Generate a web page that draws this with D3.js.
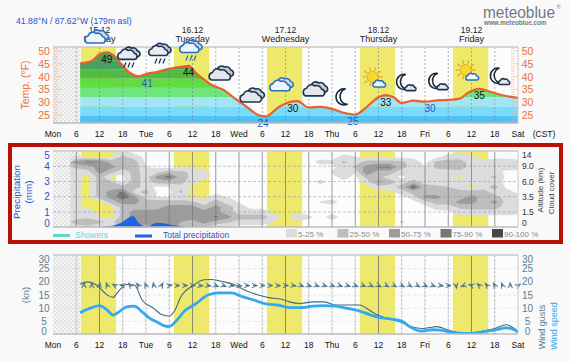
<!DOCTYPE html>
<html>
<head>
<meta charset="utf-8">
<script src="https://cdn.jsdelivr.net/npm/d3@7"></script>
<style>
html, body { margin: 0; padding: 0; background: #f9f9f9; }
svg { display: block; font-family: "Liberation Sans", Arial, sans-serif; }
</style>
</head>
<body>
<svg id="chart" width="570" height="362"></svg>
<script>
// forecast data
var dayLabels = [['15.12', 'Monday', 12], ['16.12', 'Tuesday', 36], ['17.12', 'Wednesday', 60], ['18.12', 'Thursday', 84], ['19.12', 'Friday', 108]];
var axisHours = [0, 6, 12, 18, 24, 30, 36, 42, 48, 54, 60, 66, 72, 78, 84, 90, 96, 102, 108, 114, 120];
var axisNames = ['Mon', '6', '12', '18', 'Tue', '6', '12', '18', 'Wed', '6', '12', '18', 'Thu', '6', '12', '18', 'Fri', '6', '12', '18', 'Sat'];
var daylight = [[7.2, 16.3], [31.2, 40.3], [55.2, 64.3], [79.2, 88.3], [103.2, 112.3]];

var tempHours = [7, 10, 12, 14, 16, 18, 20, 22, 24, 27, 30, 33, 35, 37, 39, 41, 44, 47, 50, 53, 55, 58, 60, 63, 66, 69, 72, 75, 78, 81, 84, 86, 88, 90, 93, 96, 99, 102, 105, 107, 110, 113, 116, 120];
var tempValues = [45.2, 46.1, 48.7, 49.5, 47.8, 44.2, 41.3, 40.1, 41, 41.9, 43, 43.8, 44.2, 41.3, 38.8, 36.7, 34.8, 31.4, 28.2, 25, 24.5, 27.8, 29.5, 30.4, 28, 28.2, 27.4, 25.9, 25.2, 28.2, 31.9, 32.8, 31.8, 29.7, 30.6, 30.2, 30.7, 30.9, 31.4, 33.6, 35.2, 34, 32.7, 31.7];
var tempSteps = [21, 24.8, 28.4, 32, 35.6, 39.2, 42.8, 46.4, 52];
var tempColors = ['#4fc3f5', '#7adcf8', '#a2e6f6', '#6fe67c', '#62dc42', '#52bb42', '#4a9f62', '#4a9f62'];
var tempLabelHours = [13.9, 24.3, 35, 54.2, 61.9, 77.4, 85.9, 97.3, 110];
var tempLabelValues = [49, 41, 44, 24, 30, 25, 33, 30, 35];
var tempLabelLine = [49.5, 40.1, 44.2, 24.5, 30.4, 25.2, 32.8, 30.2, 35.2];
var tempLabelLow = [false, true, false, true, false, true, false, true, false];
var tempTicks = [50, 45, 40, 35, 30, 25];

var iconHours = [11.3, 19.6, 27.6, 35.6, 43.6, 51.6, 59, 67.9, 75, 83, 91.3, 99.6, 107, 115.5];
var iconLevels = [55, 47.7, 49.2, 50.4, 41, 32.4, 36.3, 34.8, 32, 38.7, 37.1, 37.5, 41.4, 39.5];
var iconKinds = ['dayCloud', 'rain', 'rain', 'dayRain', 'cloud', 'cloud', 'dayCloud', 'cloud', 'moon', 'sun', 'moonCloud', 'moonCloud', 'sun', 'moonCloud'];

var precipHours = [12.5, 13.4, 15.5, 17.6, 19, 20, 21, 22, 23.4, 24.7, 26, 27.2, 29, 30.6, 32.7, 34.5];
var precipValues = [0, 0.05, 0.1, 0.3, 0.55, 0.72, 0.7, 0.3, 0.08, 0.05, 0.25, 0.3, 0.25, 0.15, 0.1, 0];
var precipTicks = [5, 4, 3, 2, 1, 0];
var altitudeTicks = ['14', '9.0', '6.0', '3.5', '1.5', '0'];

// cloud cover in percent: one list per 3 hours from hour 6, 16 levels from top to bottom
var cloudCols = [
  [0, 8, 60, 30, 10, 10, 10, 10, 10, 10, 10, 10, 15, 15, 35, 15],
  [0, 4, 80, 40, 15, 0, 0, 0, 0, 0, 0, 0, 20, 20, 40, 20],
  [0, 4, 75, 60, 60, 35, 35, 35, 35, 35, 0, 0, 0, 5, 30, 10],
  [0, 4, 40, 60, 35, 0, 30, 35, 60, 60, 35, 0, 0, 0, 20, 0],
  [15, 30, 35, 35, 10, 0, 0, 35, 80, 95, 60, 35, 30, 35, 40, 35],
  [0, 15, 35, 35, 35, 35, 35, 35, 15, 60, 60, 40, 60, 60, 60, 40],
  [0, 0, 0, 6, 15, 15, 15, 15, 35, 15, 35, 35, 60, 60, 60, 40],
  [0, 0, 0, 0, 20, 60, 35, 0, 0, 5, 35, 40, 60, 60, 60, 60],
  [0, 0, 0, 0, 35, 90, 35, 5, 0, 5, 35, 60, 60, 60, 60, 60],
  [0, 0, 0, 0, 30, 35, 30, 20, 30, 10, 35, 60, 60, 60, 50, 40],
  [0, 0, 0, 0, 20, 20, 15, 0, 0, 0, 30, 60, 60, 60, 40, 30],
  [0, 0, 0, 0, 10, 10, 0, 0, 0, 0, 15, 30, 60, 60, 60, 30],
  [0, 0, 0, 0, 0, 0, 0, 0, 0, 15, 35, 60, 60, 80, 40, 10],
  [0, 0, 0, 0, 0, 0, 0, 0, 0, 5, 15, 35, 35, 60, 30, 5],
  [0, 0, 0, 0, 0, 0, 0, 0, 0, 0, 4, 15, 15, 35, 15, 0],
  [0, 0, 0, 0, 0, 0, 0, 0, 0, 0, 0, 0, 15, 35, 15, 0],
  [0, 0, 0, 0, 0, 0, 0, 0, 0, 0, 0, 0, 15, 35, 15, 0],
  [0, 0, 0, 0, 0, 0, 0, 0, 0, 0, 0, 0, 0, 15, 4, 0],
  [0, 0, 0, 0, 0, 0, 0, 0, 0, 0, 0, 0, 0, 0, 0, 0],
  [0, 0, 0, 0, 0, 0, 0, 0, 0, 0, 0, 0, 0, 20, 0, 0],
  [0, 0, 0, 0, 0, 0, 0, 0, 0, 0, 0, 0, 0, 8, 0, 0],
  [0, 0, 10, 0, 0, 0, 9, 0, 0, 0, 6, 0, 0, 0, 0, 0],
  [0, 0, 8, 0, 6, 0, 0, 0, 0, 0, 10, 0, 0, 12, 0, 0],
  [0, 10, 30, 15, 15, 12, 0, 0, 0, 0, 0, 0, 0, 0, 0, 0],
  [0, 6, 15, 30, 6, 0, 0, 0, 0, 0, 0, 0, 0, 0, 0, 0],
  [0, 0, 35, 60, 75, 35, 10, 0, 0, 0, 0, 0, 0, 0, 0, 0],
  [0, 0, 35, 80, 35, 30, 60, 15, 0, 0, 0, 0, 0, 0, 0, 0],
  [0, 0, 35, 80, 35, 15, 35, 15, 0, 0, 0, 0, 0, 0, 0, 0],
  [0, 0, 30, 30, 15, 0, 15, 35, 15, 0, 0, 0, 0, 0, 7, 0],
  [0, 0, 15, 20, 20, 15, 35, 95, 35, 15, 0, 0, 0, 0, 0, 0],
  [0, 0, 0, 5, 15, 15, 15, 35, 35, 60, 15, 0, 0, 0, 0, 0],
  [0, 0, 30, 30, 15, 15, 15, 30, 35, 60, 35, 15, 0, 0, 0, 0],
  [0, 15, 35, 35, 15, 15, 15, 25, 35, 35, 35, 15, 0, 0, 0, 0],
  [0, 15, 35, 40, 15, 0, 15, 10, 35, 35, 60, 30, 15, 0, 0, 0],
  [0, 10, 15, 15, 15, 15, 15, 0, 35, 60, 60, 35, 15, 0, 0, 0],
  [0, 0, 10, 15, 15, 15, 15, 15, 35, 40, 35, 35, 15, 0, 0, 0],
  [0, 0, 15, 15, 15, 30, 15, 35, 15, 35, 60, 35, 15, 0, 0, 0],
  [0, 0, 15, 15, 0, 0, 0, 0, 15, 15, 15, 15, 15, 0, 0, 0],
  [0, 0, 10, 15, 0, 0, 0, 0, 0, 15, 15, 15, 10, 0, 0, 0]
];
var cloudLevels = [5, 25, 50, 75, 90];
var cloudColors = ['#dcdcdc', '#bdbdbd', '#9c9c9c', '#767676', '#474747'];
var cloudNames = ['5-25 %', '25-50 %', '50-75 %', '75-90 %', '90-100 %'];

var speedHours = [7, 10, 12, 14, 15.5, 17, 19, 21, 23, 25, 27, 29, 30, 32, 34, 37, 40, 43, 46, 49, 52, 55, 58, 61, 64, 67, 70, 73, 76, 79, 82, 84, 87, 90, 92, 95, 98, 100, 103, 106, 109, 112, 114, 117, 119, 120];
var speedValues = [8.3, 10.2, 11, 9.3, 7.4, 8.6, 10.5, 10.8, 8.6, 6.1, 4.6, 3.2, 3, 5.5, 9, 11.8, 15, 15.8, 15.8, 14.3, 13, 11.6, 11.2, 10.2, 10.2, 10.8, 11, 10.8, 9.9, 9, 7.4, 6.5, 5.9, 5.1, 3, 1.3, 1.8, 1.7, 0.8, 0.4, 0.5, 1.3, 1.7, 2.5, 1.8, 0.9];
var gustHours = [7, 9, 11, 14, 15.5, 17, 19, 21, 23, 26, 28, 30, 31.5, 33, 36, 39, 41, 44, 47, 50, 53, 56, 59, 61, 64, 67, 70, 73, 76, 79, 81, 83, 85, 88, 90, 92, 95, 97, 99, 102, 105, 108, 111, 114, 117, 119, 120];
var gustValues = [19.1, 20, 19, 15, 14.1, 16.6, 19, 18.8, 13.1, 9.9, 7.6, 7, 9.3, 14.3, 18.5, 20.8, 20.9, 20, 18.8, 16.5, 15, 13.9, 13.4, 12.4, 11.8, 12.4, 12.4, 11.2, 11.2, 11.2, 9.9, 8, 6.7, 5.5, 4.6, 3.2, 2.3, 2.6, 3, 1.7, 0.6, 0.6, 1.3, 2.3, 3.7, 2.3, 1.3];
// wind direction every 2 hours from hour 8, degrees clockwise from up
var windDirs = [0, 0, 10, -20, -60, -80, -40, -40, -20, -10, 30, 80,
  90, 90, 90, 95, 100, 110, 110, 100, 95, 90, 90, 90, 90, 90, 90, 100, 110, 110, 110, 110, 110, 110, 110, 110, 110, 115, 115, 120, 120, 120, 120, 120, 115, 110, 100, 90,
  170, -110, -70, -50, -40, -30, -20, 0, 60];
var windTicks = [30, 25, 20, 15, 10, 5, 0];

var svg = d3.select('#chart');
var defs = svg.append('defs');

var hatch = defs.append('pattern').attr('id', 'hatch').attr('width', 4).attr('height', 4).attr('patternUnits', 'userSpaceOnUse');
hatch.append('rect').attr('width', 4).attr('height', 4).attr('fill', '#f6f6f6');
hatch.append('rect').attr('width', 2).attr('height', 2).attr('fill', '#e2e2e2');
hatch.append('rect').attr('x', 2).attr('y', 2).attr('width', 2).attr('height', 2).attr('fill', '#e2e2e2');

var x = d3.scaleLinear().domain([0, 120]).range([53, 518]);
var yTemp = d3.scaleLinear().domain([50, 25]).range([51, 115]);
var yPrecip = d3.scaleLinear().domain([5, 0]).range([151, 227.3]);
var yWind = d3.scaleLinear().domain([30, 0]).range([255.5, 334.5]);

var panels = [{top: 47, bottom: 123}, {top: 151, bottom: 227}, {top: 255, bottom: 334}];

function clipFor(id, p) {
  defs.append('clipPath').attr('id', id).append('rect')
    .attr('x', 53).attr('y', p.top).attr('width', 465).attr('height', p.bottom - p.top);
}
clipFor('clipTemp', panels[0]);
clipFor('clipPrecip', panels[1]);
clipFor('clipWind', panels[2]);

// panel backgrounds, night hatch and daylight bands
panels.forEach(function (p) {
  var g = svg.append('g');
  g.append('rect').attr('x', 53).attr('y', p.top).attr('width', 465).attr('height', p.bottom - p.top).attr('fill', '#fcfcfc');
  g.selectAll('.day').data(daylight).enter().append('rect')
    .attr('x', function (d) { return x(d[0]); })
    .attr('width', function (d) { return x(d[1]) - x(d[0]); })
    .attr('y', p.top).attr('height', p.bottom - p.top).attr('fill', '#eee96a');
  g.append('rect').attr('x', 53).attr('y', p.top).attr('width', x(7) - 53).attr('height', p.bottom - p.top).attr('fill', 'url(#hatch)');
});

function textAt(str, tx, ty, size, color, anchor, weight) {
  return svg.append('text').attr('x', tx).attr('y', ty).attr('font-size', size).attr('fill', color)
    .attr('text-anchor', anchor || 'start').attr('font-weight', weight || 'normal').text(str);
}
function sideText(str, tx, ty, size, color, weight) {
  return svg.append('text').attr('transform', 'translate(' + tx + ',' + ty + ') rotate(-90)')
    .attr('font-size', size).attr('fill', color).attr('text-anchor', 'middle').attr('font-weight', weight || 'normal').text(str);
}

// ---- temperature panel ----
var tempLine = d3.line().x(function (d) { return x(d[0]); }).y(function (d) { return yTemp(d[1]); }).curve(d3.curveMonotoneX);
var tempArea = d3.area().x(function (d) { return x(d[0]); }).y0(123).y1(function (d) { return yTemp(d[1]); }).curve(d3.curveMonotoneX);
var tempData = d3.zip(tempHours, tempValues);

defs.append('clipPath').attr('id', 'underTemp').append('path').attr('d', tempArea(tempData));
var bands = svg.append('g').attr('clip-path', 'url(#underTemp)');
tempColors.forEach(function (c, i) {
  bands.append('rect').attr('x', 53).attr('width', 465)
    .attr('y', yTemp(tempSteps[i + 1])).attr('height', yTemp(tempSteps[i]) - yTemp(tempSteps[i + 1]))
    .attr('fill', c);
});

svg.append('g').selectAll('line').data(axisHours.slice(1, 20)).enter().append('line')
  .attr('x1', x).attr('x2', x).attr('y1', 47).attr('y2', 123)
  .attr('stroke', '#6f7f88').attr('stroke-opacity', 0.6).attr('stroke-dasharray', '2,2');

// little orange ticks on both sides
var sideTicks = d3.range(22, 52);
[[53, 62], [511, 518]].forEach(function (s) {
  svg.append('g').selectAll('line').data(sideTicks).enter().append('line')
    .attr('x1', s[0]).attr('x2', function (d) { return d % 5 === 0 ? s[1] : (s[0] + s[1]) / 2; })
    .attr('y1', yTemp).attr('y2', yTemp).attr('stroke', '#f0b090').attr('stroke-width', 0.6);
});

svg.append('path').attr('d', tempLine(tempData)).attr('fill', 'none').attr('stroke', '#e8602a').attr('stroke-width', 2.2);

tempLabelValues.forEach(function (v, i) {
  textAt(v, x(tempLabelHours[i]), yTemp(tempLabelLine[i]) + 10.5, 10, tempLabelLow[i] ? '#2255cc' : '#111', 'middle');
});
tempTicks.forEach(function (t) {
  textAt(t, 44, yTemp(t) + 4, 10.5, '#e8703a', 'middle');
  textAt(t, 527.5, yTemp(t) + 4, 10.5, '#e8703a', 'middle');
});
sideText('Temp. (°F)', 29, 85, 10.5, '#e8703a');

// ---- precipitation and clouds panel ----
var nCols = cloudCols.length, nRows = cloudCols[0].length;
var flat = [];
for (var j = 0; j < nRows; j++) {
  for (var i = 0; i < nCols; i++) flat.push(cloudCols[i][j]);
}
var colX = d3.scaleLinear().domain([0.5, nCols - 0.5]).range([x(6), x(120)]);
var rowY = d3.scaleLinear().domain([0.5, nRows - 0.5]).range([152, 227]);
var gridPath = d3.geoPath().projection(d3.geoTransform({
  point: function (px, py) { this.stream.point(colX(px), rowY(py)); }
}));
var contours = d3.contours().size([nCols, nRows]).thresholds(cloudLevels)(flat);
var cloudG = svg.append('g').attr('clip-path', 'url(#clipPrecip)');
cloudG.selectAll('path').data(contours).enter().append('path')
  .attr('d', gridPath)
  .attr('fill', function (d, k) { return cloudColors[k]; });

svg.append('g').selectAll('line').data(axisHours.slice(1, 20)).enter().append('line')
  .attr('x1', x).attr('x2', x).attr('y1', 151).attr('y2', 227)
  .attr('stroke', '#777').attr('stroke-opacity', 0.75);
svg.append('g').selectAll('line').data([4, 3, 2, 1]).enter().append('line')
  .attr('x1', 53).attr('x2', 518).attr('y1', yPrecip).attr('y2', yPrecip)
  .attr('stroke', '#8f8fd0').attr('stroke-opacity', 0.7).attr('stroke-dasharray', '3,2').attr('stroke-width', 0.8);

var precipArea = d3.area().x(function (d) { return x(d[0]); }).y0(yPrecip(0)).y1(function (d) { return yPrecip(d[1]); });
svg.append('path').attr('d', precipArea(d3.zip(precipHours, precipValues))).attr('fill', '#1f66e0');

// labels near the panel ends sit inside the frame
function inside(pos, top, bottom) { return Math.min(Math.max(pos, top + 4), bottom - 4); }
precipTicks.forEach(function (t) {
  textAt(t, 47, inside(yPrecip(t), 151, 227) + 3.5, 10, '#2a52c8', 'middle');
});
altitudeTicks.forEach(function (t, k) {
  textAt(t, 522, inside(yPrecip(precipTicks[k]), 151, 227) + 3, 8.5, '#333');
});
sideText('Precipitation', 20, 192, 9.8, '#2a52c8');
sideText('(mm)', 32, 192, 9.8, '#2a52c8');
sideText('Altitude (km)', 543, 190, 8, '#444');
sideText('Cloud cover', 554, 193, 8, '#444');

svg.append('rect').attr('x', 53).attr('y', 234).attr('width', 17).attr('height', 3).attr('fill', '#5ed8c8');
textAt('Showers', 75, 238, 8.5, '#5ed8c8');
svg.append('rect').attr('x', 135).attr('y', 234.5).attr('width', 17).attr('height', 3).attr('fill', '#1f66e0');
textAt('Total precipitation', 163, 238, 8.5, '#2a52c8');
cloudNames.forEach(function (n, k) {
  var lx = d3.scaleLinear().domain([0, 4]).range([286, 492])(k);
  svg.append('rect').attr('x', lx).attr('y', 229).attr('width', 11).attr('height', 8.5).attr('fill', cloudColors[k]);
  textAt(n, lx + 12, 237, 8, '#8a8a8a');
});

// ---- wind panel ----
svg.append('g').selectAll('line').data(windTicks.slice(1, 6)).enter().append('line')
  .attr('x1', 53).attr('x2', 518).attr('y1', yWind).attr('y2', yWind)
  .attr('stroke', '#c9d6de').attr('stroke-opacity', 0.7).attr('stroke-dasharray', '3,2').attr('stroke-width', 0.7);
svg.append('g').selectAll('line').data(axisHours.slice(1, 20)).enter().append('line')
  .attr('x1', x).attr('x2', x).attr('y1', 255).attr('y2', 334)
  .attr('stroke', function (d) { return d % 24 === 12 ? '#8a8a70' : '#bdbdbd'; })
  .attr('stroke-width', 1)
  .attr('stroke-dasharray', function (d) { return d % 24 === 12 ? null : '3,1'; });

var windLine = d3.line().x(function (d) { return x(d[0]); }).y(function (d) { return yWind(d[1]); }).curve(d3.curveMonotoneX);
var windG = svg.append('g').attr('clip-path', 'url(#clipWind)');
windG.append('path').attr('d', windLine(d3.zip(gustHours, gustValues))).attr('fill', 'none').attr('stroke', '#3f6a85').attr('stroke-width', 1.1);
windG.append('path').attr('d', windLine(d3.zip(speedHours, speedValues))).attr('fill', 'none').attr('stroke', '#33a9f0').attr('stroke-width', 2.8);

svg.append('g').selectAll('path').data(windDirs).enter().append('path')
  .attr('transform', function (d, k) { return 'translate(' + x(8 + k * 2) + ',' + yWind(18.6) + ') rotate(' + d + ')'; })
  .attr('d', 'M-2.2,2.6 L0,-2.8 L2.2,2.6 M0,-2.8 L0,1.5')
  .attr('fill', 'none').attr('stroke', '#54788f').attr('stroke-width', 1);

windTicks.forEach(function (t) {
  var ty = inside(yWind(t), 255, 334) + 3.5;
  if (t === 0) ty += 1;
  textAt(t, 44, ty, 10, '#5a7e96', 'middle');
  textAt(t, 527.5, ty, 10, '#5a7e96', 'middle');
});
sideText('(kn)', 29, 295, 9.5, '#5a7e96');
sideText('Wind gusts', 545, 327, 9, '#5a7e96');
sideText('Wind speed', 557, 326, 9, '#33a9f0');

// panel frames
panels.forEach(function (p) {
  svg.append('line').attr('x1', 53).attr('x2', 518).attr('y1', p.top).attr('y2', p.top).attr('stroke', '#c8c8c8').attr('stroke-width', 1.5);
  svg.append('line').attr('x1', 53).attr('x2', 518).attr('y1', p.bottom).attr('y2', p.bottom).attr('stroke', '#bbb').attr('stroke-width', 1.5);
  svg.append('line').attr('x1', 518).attr('x2', 518).attr('y1', p.top).attr('y2', p.bottom).attr('stroke', '#ccc');
});

// hour labels, top and bottom
[136.5, 348].forEach(function (ty) {
  axisNames.forEach(function (n, k) {
    textAt(n, x(axisHours[k]), ty, 8.5, '#111', 'middle');
  });
});
textAt('(CST)', 544, 136.5, 8.5, '#111', 'middle');

dayLabels.forEach(function (d) {
  textAt(d[0], x(d[2]), 33, 8.5, '#222', 'middle');
  textAt(d[1], x(d[2]), 42, 9, '#222', 'middle');
});
textAt('41.88°N / 87.62°W (179m asl)', 16, 24, 8.7, '#2a4fd0');
textAt('meteoblue', 483, 18, 16, '#6f7c88').attr('textLength', 72).attr('lengthAdjust', 'spacingAndGlyphs');
textAt('®', 556.5, 9, 5.5, '#6f7c88');
textAt('www.meteoblue.com', 484, 24.5, 6.3, '#6f7c88', 'start', 'bold');

// weather icons
function cloudShape(g, ox, oy, s, fill, stroke) {
  g.append('path')
    .attr('transform', 'translate(' + ox + ',' + oy + ') scale(' + s + ')')
    .attr('d', 'M-9,5 A4,4 0 0 1 -8,-2.6 A5,5 0 0 1 0,-5 A5.5,5.5 0 0 1 7,-1.8 A3.6,3.6 0 0 1 8,5 Z')
    .attr('fill', fill).attr('stroke', stroke).attr('stroke-width', 1.6 / s).attr('stroke-linejoin', 'round');
}
function moonShape(g, ox, oy, s) {
  g.append('path')
    .attr('transform', 'translate(' + ox + ',' + oy + ') scale(' + s + ')')
    .attr('d', 'M2,-8 A8,8 0 1 0 4,7 A6.5,7.5 0 0 1 2,-8 Z')
    .attr('fill', '#fff').attr('stroke', '#16263a').attr('stroke-width', 1.6);
}
function sunShape(g, ox, oy) {
  d3.range(0, 360, 36).forEach(function (a) {
    g.append('line').attr('transform', 'translate(' + ox + ',' + oy + ') rotate(' + a + ')')
      .attr('x1', 6.5).attr('x2', 10).attr('stroke', '#e8a820').attr('stroke-width', 1.3);
  });
  g.append('circle').attr('cx', ox).attr('cy', oy).attr('r', 5.5).attr('fill', '#f7d92e').attr('stroke', '#d89a20').attr('stroke-width', 0.8);
}
iconKinds.forEach(function (kind, k) {
  var g = svg.append('g').attr('transform', 'translate(' + x(iconHours[k]) + ',' + yTemp(iconLevels[k]) + ')');
  var dark = '#1e3450', blue = '#2a70c0';
  if (kind === 'cloud') {
    cloudShape(g, 2.5, -2.5, 0.9, '#c4ccd4', dark);
    cloudShape(g, -1.5, 1, 1, '#e4e8ec', dark);
  } else if (kind === 'rain') {
    cloudShape(g, 2.5, -4.5, 0.85, '#c4ccd4', dark);
    cloudShape(g, -1, -2, 0.9, '#e8ecf0', dark);
    g.selectAll('.r').data([-4, 0, 4]).enter().append('line')
      .attr('x1', function (d) { return d + 1; }).attr('x2', function (d) { return d - 1; })
      .attr('y1', 5.5).attr('y2', 10.5).attr('stroke', dark).attr('stroke-width', 1.3);
  } else if (kind === 'dayCloud') {
    cloudShape(g, 3, -3, 0.85, '#cfdbe6', blue);
    cloudShape(g, -1, 0, 0.95, '#eef5fb', blue);
  } else if (kind === 'dayRain') {
    cloudShape(g, 2.5, -4.5, 0.85, '#cfdbe6', blue);
    cloudShape(g, -1, -2, 0.9, '#eef5fb', blue);
    g.selectAll('.r').data([-4, 0, 4]).enter().append('line')
      .attr('x1', function (d) { return d + 1; }).attr('x2', function (d) { return d - 1; })
      .attr('y1', 5.5).attr('y2', 10.5).attr('stroke', blue).attr('stroke-width', 1.3);
  } else if (kind === 'moon') {
    moonShape(g, 0, 0, 1);
  } else if (kind === 'moonCloud') {
    moonShape(g, -3, -2, 0.95);
    cloudShape(g, 4, 4, 0.52, '#e4e8ec', dark);
  } else if (kind === 'sun') {
    sunShape(g, -2, -3);
    cloudShape(g, 5, 4, 0.6, '#eef5fb', blue);
  }
});

// red highlight around the middle panel
svg.append('rect').attr('x', 10).attr('y', 145).attr('width', 551).attr('height', 97)
  .attr('fill', 'none').attr('stroke', '#b81007').attr('stroke-width', 4);
</script>
</body>
</html>
